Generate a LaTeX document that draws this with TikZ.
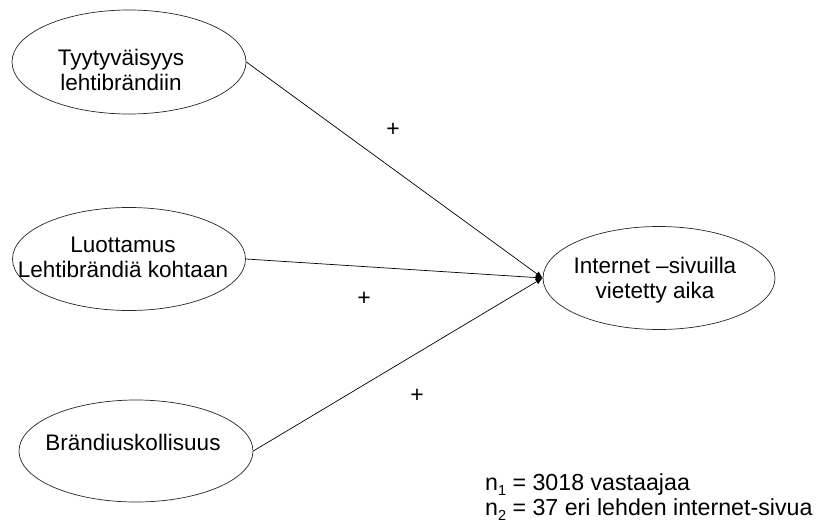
\documentclass[tikz,border=0pt]{standalone}
\usepackage{fontspec}
\setmainfont{Liberation Sans}
\usetikzlibrary{shapes.geometric,arrows.meta}
\newcommand{\lowidx}[1]{\raisebox{-0.45ex}{\fontsize{14.5}{14.5}\selectfont #1}}
\begin{document}
\begin{tikzpicture}[x=1pt,y=-1pt,
  construct/.style={draw=black!85, line width=0.7pt, ellipse, inner sep=0pt},
  caption/.style={align=center, inner sep=0pt, font=\fontsize{22.5}{25}\selectfont},
  path link/.style={draw=black, line width=0.7pt,
    -{Latex[length=7pt,width=6pt]}},
  sign/.style={font=\fontsize{23}{23}\selectfont}]
  \useasboundingbox (0,0) rectangle (824,527);

  % explanatory constructs
  \node[construct, minimum width=234pt, minimum height=104pt] (sat) at (129,62) {};
  \node[caption] (satT) at (121,70) {Tyytyväisyys\\lehtibrändiin};

  \node[construct, minimum width=233pt, minimum height=103pt] (trust) at (129,259) {};
  \node[caption] (trustT) at (123,257) {Luottamus\\Lehtibrändiä kohtaan};

  \node[construct, minimum width=234pt, minimum height=102pt] (loyal) at (136,451) {};
  \node[caption] (loyalT) at (133,442) {Brändiuskollisuus};

  % outcome
  \node[construct, minimum width=232pt, minimum height=103pt] (time) at (659,278) {};
  \node[caption] (timeT) at (655,280) {Internet –sivuilla\\vietetty aika};

  % hypothesised paths
  \draw[path link] (sat.east)   -- (time.west);
  \draw[path link] (trust.east) -- (time.west);
  \draw[path link] (loyal.east) -- (time.west);

  % path signs
  \node[sign] (s1) at (393,130) {+};
  \node[sign] (s2) at (364,299) {+};
  \node[sign] (s3) at (417,396) {+};

  % sample sizes
  \node[anchor=base west, align=left, inner sep=0pt,
        font=\fontsize{23.2}{25}\selectfont] (n) at (485,515)
    {n\lowidx{1} = 3018 vastaajaa\\n\lowidx{2} = 37 eri lehden internet-sivua};
\end{tikzpicture}
\end{document}
